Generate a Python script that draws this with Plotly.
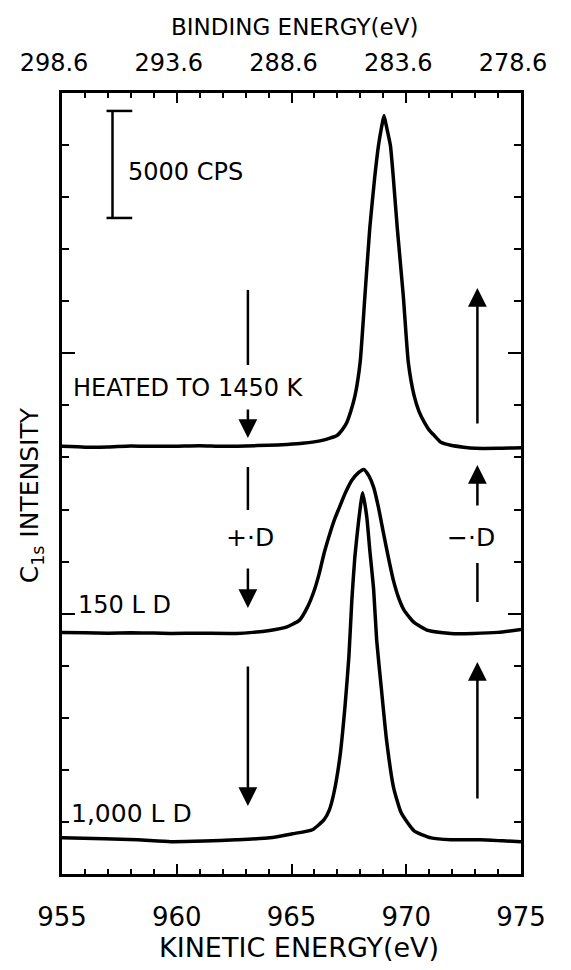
import plotly.graph_objects as go

# ---------------- data ----------------
# kinetic energy (eV) and C1s intensity above each trace's own baseline (CPS)
ke_heated = [955.0, 956.0, 957.0, 958.0, 959.0, 960.0, 961.0, 962.0, 963.0, 964.0,
             964.8, 965.47, 966.34, 966.98, 967.2, 967.41, 967.6, 967.77, 967.99, 968.2,
             968.41, 968.62, 968.79, 968.92, 969.03, 969.14, 969.31, 969.44, 969.61,
             969.87, 970.09, 970.34, 970.55, 970.79, 971.0, 971.22, 971.51, 971.94,
             972.5, 973.0, 974.0, 975.0]
i_heated = [0, -40, -30, 20, 0, 10, 30, 0, 20, 50,
            90, 140, 280, 510, 760, 1120, 1700, 2380, 3920, 7050,
            10190, 12520, 14070, 14900, 15470, 14950, 14070, 12520, 10190,
            7050, 3920, 2380, 1650, 1120, 760, 510, 190, 50,
            -40, -90, -90, -60]

ke_150 = [955.0, 956.0, 957.0, 958.0, 959.0, 959.74, 961.0, 962.59, 963.32, 964.05,
          964.74, 965.34, 965.69, 965.99, 966.21, 966.42, 966.68, 966.9, 967.07, 967.33,
          967.63, 967.93, 968.15, 968.36, 968.58, 968.79, 969.01, 969.22, 969.44,
          969.66, 969.91, 970.34, 970.95, 971.94, 972.93, 974.0, 975.0]
i_150 = [0, -20, -40, -20, -30, -50, -40, -50, 0, 90,
         230, 560, 1170, 1960, 2760, 3700, 4650, 5350, 5800, 6480,
         7110, 7480, 7620, 7340, 6780, 5840, 4630, 3510, 2430,
         1640, 1030, 470, 90, -50, -50, 0, 140]

ke_1000 = [955.0, 956.85, 958.3, 959.74, 961.2, 962.59, 964.05, 965.04, 965.91, 966.42,
           966.65, 966.85, 967.11, 967.33, 967.5, 967.63, 967.76, 967.93, 968.1, 968.28,
           968.41, 968.58, 968.71, 968.92, 969.14, 969.44, 969.78, 970.34, 971.08,
           971.94, 973.23, 974.2, 975.0]
i_1000 = [90, 50, 0, -90, -60, 0, 90, 280, 470, 940,
          1400, 2200, 3880, 6220, 8560, 11220, 13220, 14960, 16230, 15100,
          13560, 11690, 9350, 7020, 4680, 2480, 1260, 420, 90,
          0, 0, -50, -90]

# vertical offsets of the stacked spectra (CPS)
offsets = {"heated": 20000, "150": 11300, "1000": 1600}

ke_ticks = [955, 960, 965, 970, 975]
be_ticks = [298.6, 293.6, 288.6, 283.6, 278.6]
be_labels = ["298.6", "293.6", "288.6", "283.6", "278.6"]

Y_MAX = 36525          # full height of the frame in CPS
Y_MINOR = Y_MAX / 15   # minor tick spacing

FONT = "DejaVu Sans"

fig = go.Figure()

line_style = dict(color="black", width=3.5, shape="spline", smoothing=0.5)
for ke, inten, key in [(ke_heated, i_heated, "heated"),
                       (ke_150, i_150, "150"),
                       (ke_1000, i_1000, "1000")]:
    fig.add_trace(go.Scatter(x=ke, y=[v + offsets[key] for v in inten],
                             mode="lines", line=line_style,
                             showlegend=False, hoverinfo="skip"))

# invisible trace to carry the binding-energy axis on top
fig.add_trace(go.Scatter(x=be_ticks, y=[None] * len(be_ticks), xaxis="x2", yaxis="y",
                         mode="markers", marker=dict(opacity=0), showlegend=False,
                         hoverinfo="skip"))

shapes = []
def seg(x0, y0, x1, y1, w=2.5):
    shapes.append(dict(type="line", xref="x", yref="y", x0=x0, y0=y0, x1=x1, y1=y1,
                       line=dict(color="black", width=w)))

# scale bar (5000 CPS)
seg(957.20, 30681, 957.20, 35686)
seg(956.94, 35686, 958.06, 35686)
seg(956.94, 30681, 958.06, 30681)
# plain arrow shafts
seg(963.10, 27314, 963.10, 23806)
seg(963.10, 19035, 963.10, 17024)
seg(973.10, 14545, 973.10, 12721)

annotations = []
def arrow(x, y_tail, y_tip):
    annotations.append(dict(x=x, y=y_tip, ax=x, ay=y_tail, xref="x", yref="y",
                            axref="x", ayref="y", text="", showarrow=True,
                            arrowhead=2, arrowsize=1.5, arrowwidth=2.5,
                            arrowcolor="black"))

arrow(963.10, 21795, 20392)
arrow(963.10, 14358, 12441)
arrow(963.10, 9775, 3180)
arrow(973.10, 21000, 27407)
arrow(973.10, 17165, 19129)
arrow(973.10, 3461, 9915)

def text(x, y, s, size=25, anchor="left"):
    annotations.append(dict(x=x, y=y, xref="x", yref="y", text=s, showarrow=False,
                            xanchor=anchor, yanchor="middle",
                            font=dict(family=FONT, size=size, color="black")))

text(957.80, 32833, "5000 CPS", 24)
text(955.40, 22730, "HEATED TO 1450 K", 24)
text(955.60, 12581, "150 L D", 24)
text(955.30, 2853, "1,000 L D", 25)
text(963.19, 15715, "+·D", 25, "center")
text(972.84, 15715, "−·D", 25, "center")

# axis titles
annotations.append(dict(x=0.5075, y=1.0845, xref="paper", yref="paper",
                        text="BINDING ENERGY(eV)", showarrow=False,
                        xanchor="center", yanchor="middle",
                        font=dict(family=FONT, size=23, color="black")))
annotations.append(dict(x=0.517, y=-0.0935, xref="paper", yref="paper",
                        text="KINETIC ENERGY(eV)", showarrow=False,
                        xanchor="center", yanchor="middle",
                        font=dict(family=FONT, size=27, color="black")))
annotations.append(dict(x=-0.0668, y=0.4853, xref="paper", yref="paper",
                        text="C<sub>1s</sub> INTENSITY", showarrow=False, textangle=-90,
                        xanchor="center", yanchor="middle",
                        font=dict(family=FONT, size=25, color="black")))

# the page body has an 8px margin, so the figure is shrunk and margins offset by 8px
fig.update_layout(
    width=555, height=954,
    margin=dict(l=49, r=42, t=85, b=88),
    paper_bgcolor="white", plot_bgcolor="white",
    shapes=shapes, annotations=annotations,
    xaxis=dict(range=[955, 975], tickvals=ke_ticks, ticktext=[str(v) for v in ke_ticks],
               ticks="inside", ticklen=10, tickwidth=2, tickcolor="black",
               showline=True, linewidth=2.5, linecolor="black", mirror="ticks",
               showgrid=False, zeroline=False, ticklabelstandoff=18,
               tickfont=dict(family=FONT, size=26, color="black"),
               minor=dict(dtick=1, tick0=955, ticks="inside", ticklen=5, tickwidth=2,
                          tickcolor="black", showgrid=False)),
    xaxis2=dict(range=[298.6, 278.6], overlaying="x", side="top",
                tickvals=be_ticks, ticktext=be_labels, ticks="", showline=False,
                showgrid=False, zeroline=False, ticklabelstandoff=16, ticklabelshift=8,
                tickfont=dict(family=FONT, size=24, color="black")),
    yaxis=dict(range=[0, Y_MAX], tick0=0, dtick=5 * Y_MINOR, ticks="inside",
               ticklen=13, tickwidth=2, tickcolor="black", showticklabels=False,
               showline=True, linewidth=2.5, linecolor="black", mirror="ticks",
               showgrid=False, zeroline=False,
               minor=dict(dtick=Y_MINOR, tick0=0, ticks="inside", ticklen=7, tickwidth=2,
                          tickcolor="black", showgrid=False)),
)

fig.write_html("out.html")
